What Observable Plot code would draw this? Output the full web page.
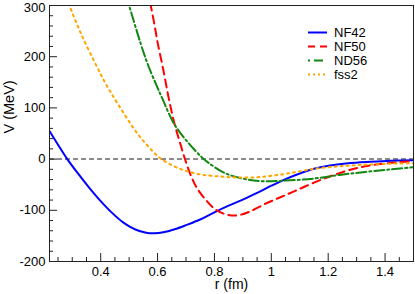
<!DOCTYPE html>
<html><head><meta charset="utf-8">
<script src="https://cdn.jsdelivr.net/npm/d3@7"></script>
<script src="https://cdn.jsdelivr.net/npm/@observablehq/plot@0.6"></script>
<style>
body{margin:0;background:#fff;font-family:"Liberation Sans",Arial,Helvetica,sans-serif;}
#wrap{position:relative;width:415px;height:294px;}
#legend{position:absolute;left:0;top:0;pointer-events:none;}
</style></head><body><div id="wrap"></div>
<script>
const seriesNames = ["NF42", "NF50", "ND56", "fss2"];
const seriesColors = ["#0000ff", "#ff0000", "#118811", "#ffa500"];
const seriesDash = [null, "8,5", "10,3,2,3", "2,4"];

const nf42R = [0.22,0.25,0.28,0.32,0.36,0.40,0.44,0.48,0.52,0.56,0.59,0.62,0.66,0.70,0.75,0.80,0.85,0.90,0.95,1.00,1.05,1.10,1.15,1.20,1.27,1.35,1.42,1.50];
const nf42V = [55,28,2,-28,-56,-82,-105,-124,-137,-144,-145,-143,-137,-129,-118,-104,-91,-79,-66,-52,-39,-28,-19,-13,-8,-5,-3,-2];

const nf50R = [0.565,0.576,0.59,0.60,0.62,0.64,0.66,0.68,0.70,0.72,0.74,0.77,0.80,0.83,0.86,0.89,0.93,0.98,1.03,1.08,1.15,1.21,1.27,1.33,1.39,1.45,1.50];
const nf50V = [330,300,260,228,175,117,68,30,-6,-36,-58,-80,-97,-106,-110,-109,-101,-87,-75,-63,-46,-33,-22,-14,-9,-6,-4];

const nd56R = [0.49,0.50,0.541,0.565,0.594,0.617,0.658,0.706,0.753,0.776,0.835,0.90,0.965,1.05,1.15,1.24,1.33,1.42,1.50];
const nd56V = [320,300,225,186,147,118,69,33,5,-6,-27,-38,-43,-42,-38,-31,-25,-20,-16];

const fss2R = [0.28,0.29,0.33,0.388,0.418,0.46,0.529,0.57,0.611,0.67,0.741,0.82,0.89,0.96,1.035,1.09,1.15,1.24,1.33,1.42,1.50];
const fss2V = [315,300,246,179,147,108,50,23,1,-17,-29,-34,-36,-35,-30,-25,-19,-14,-11,-9,-8];

const xTicks = [0.4, 0.6, 0.8, 1, 1.2, 1.4];
const xTickLabels = ["0.4", "0.6", "0.8", "1", "1.2", "1.4"];
const yTicks = [-200, -100, 0, 100, 200, 300];
const yTickLabels = ["-200", "-100", "0", "100", "200", "300"];
const xMinor = [0.25,0.3,0.35,0.45,0.5,0.55,0.65,0.7,0.75,0.85,0.9,0.95,1.05,1.1,1.15,1.25,1.3,1.35,1.45];
const yMinor = [-180,-160,-140,-120,-80,-60,-40,-20,20,40,60,80,120,140,160,180,220,240,260,280];

const W = 415, H = 294, mL = 49, mR = 2, mT = 5, mB = 33;
const fw = W - mL - mR, fh = H - mT - mB;

const allR = [nf42R, nf50R, nd56R, fss2R];
const allV = [nf42V, nf50V, nd56V, fss2V];
const table = seriesNames.map((name, s) => allR[s].map((r, i) => ({series: name, r, V: allV[s][i]})));

const lineMarks = table.map((rows, s) => Plot.line(rows, {
  x: "r", y: "V", stroke: seriesColors[s], strokeWidth: 2,
  strokeDasharray: seriesDash[s] || undefined, curve: "catmull-rom", clip: true
}));

const yTop = yTicks[yTicks.length - 1];
const yFmt = d => yTickLabels[yTicks.indexOf(d)];

const chart = Plot.plot({
  width: W, height: H,
  marginLeft: mL, marginRight: mR, marginTop: mT, marginBottom: mB,
  style: {fontFamily: '"Liberation Sans", Arial, Helvetica, sans-serif', fontSize: "13px", background: "#fff", color: "#000"},
  x: {domain: [0.22, 1.5]},
  y: {domain: [-200, 300]},
  marks: [
    Plot.ruleY([0], {stroke: "#666", strokeWidth: 1.5, strokeDasharray: "5,3"}),
    ...lineMarks,
    Plot.tickX(xTicks, {x: d => d, insetTop: fh - 8, stroke: "#222"}),
    Plot.tickX(xMinor, {x: d => d, insetTop: fh - 4, stroke: "#222"}),
    Plot.tickY(yTicks, {y: d => d, insetRight: fw - 8, stroke: "#222"}),
    Plot.tickY(yMinor, {y: d => d, insetRight: fw - 4, stroke: "#222"}),
    Plot.frame({stroke: "#222"}),
    Plot.axisX(xTicks, {tickSize: 0, tickPadding: 5.5, fontSize: 13, label: null, tickFormat: d => xTickLabels[xTicks.indexOf(d)]}),
    Plot.axisY(yTicks.filter(d => d !== yTop), {tickSize: 0, tickPadding: 4, fontSize: 13, label: null, tickFormat: yFmt}),
    Plot.axisY([yTop], {tickSize: 0, tickPadding: 4, fontSize: 13, label: null, dy: 2, tickFormat: yFmt}),
    Plot.text(["r (fm)"], {frameAnchor: "bottom", dy: 23.5, fontSize: 14, lineAnchor: "middle", text: d => d}),
    Plot.text(["V (MeV)"], {frameAnchor: "left", dx: -40, rotate: -90, fontSize: 14.5, lineAnchor: "middle", text: d => d})
  ]
});

const wrap = document.getElementById("wrap");
wrap.appendChild(chart);

// legend overlay
const ns = "http://www.w3.org/2000/svg";
const leg = document.createElementNS(ns, "svg");
leg.setAttribute("id", "legend");
leg.setAttribute("width", W); leg.setAttribute("height", H);
const rowY = [32.5, 46.5, 60.5, 74.5];
seriesNames.forEach((name, s) => {
  const ln = document.createElementNS(ns, "line");
  ln.setAttribute("x1", 308); ln.setAttribute("x2", 327);
  ln.setAttribute("y1", rowY[s]); ln.setAttribute("y2", rowY[s]);
  ln.setAttribute("stroke", seriesColors[s]); ln.setAttribute("stroke-width", 2);
  if (seriesDash[s]) ln.setAttribute("stroke-dasharray", s === 1 ? "7,5" : s === 2 ? "2,4,9,4" : "2,3");
  leg.appendChild(ln);
  const t = document.createElementNS(ns, "text");
  t.setAttribute("x", 334); t.setAttribute("y", rowY[s]);
  t.setAttribute("dy", "0.35em");
  t.setAttribute("font-size", "13px");
  t.setAttribute("font-family", '"Liberation Sans", Arial, Helvetica, sans-serif');
  t.textContent = name;
  leg.appendChild(t);
});
wrap.appendChild(leg);
</script></body></html>
